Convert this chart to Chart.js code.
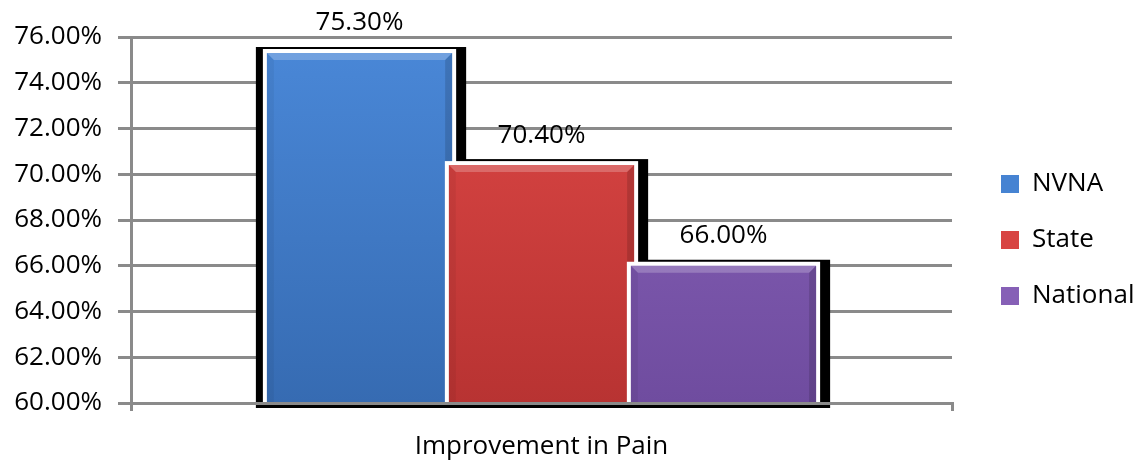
<!DOCTYPE html>
<html>
<head>
<meta charset="utf-8">
<script src="https://cdn.jsdelivr.net/npm/chart.js@4"></script>
<style>
  html, body { margin: 0; padding: 0; background: #ffffff; }
  #wrap { width: 1140px; height: 461px; }
</style>
</head>
<body>
<div id="wrap"><canvas id="c" width="1140" height="461"></canvas></div>
<script>
// ---- data ----
const categories = ['Improvement in Pain'];
const seriesNames = ['NVNA', 'State', 'National'];
const nvnaValues = [75.3];
const stateValues = [70.4];
const nationalValues = [66.0];
const yTicks = [60, 62, 64, 66, 68, 70, 72, 74, 76];

// ---- styles ----
const FONT = "'Open Sans', 'Noto Sans', sans-serif";
const solidColors = ['#4683d2', '#d84543', '#8660b6'];
const gradTops = ['#4a88d8', '#de4846', '#8a64bb'];
const gradBottoms = ['#366bb2', '#b83332', '#6f4c9f'];
const GRID = '#8a8a8a';

function gradFor(i) {
  return function (ctx) {
    const ca = ctx.chart.chartArea;
    if (!ca) return solidColors[i];
    const g = ctx.chart.ctx.createLinearGradient(0, ca.top, 0, ca.bottom);
    g.addColorStop(0, gradTops[i]);
    g.addColorStop(1, gradBottoms[i]);
    return g;
  };
}

const barPlugin = {
  id: 'bevelBars',
  afterInit(chart) {
    const lg = chart.legend;
    if (lg) {
      const f = lg.fit;
      lg.fit = function () { f.call(this); this.width = 188; };
    }
  },
  afterLayout(chart) {
    const lg = chart.legend;
    if (lg) {
      lg.left = 971;
      lg.right = 1140;
      lg.top = 141;
      lg.bottom = 461;
    }
  },
  beforeDatasetsDraw(chart) {
    const ctx = chart.ctx;
    const ca = chart.chartArea;
    const metas = chart.data.datasets.map((d, i) => chart.getDatasetMeta(i));
    const boxes = metas.map(m => m.data.map(el => {
      const p = el.getProps(['x', 'y', 'width', 'base'], true);
      const base = Math.min(p.base, ca.bottom);
      return { el, l: p.x - p.width / 2, r: p.x + p.width / 2, x: p.x, y: p.y, base };
    }));
    ctx.save();
    // black shadow boxes behind all bars
    ctx.fillStyle = '#000000';
    boxes.forEach(list => list.forEach(b => {
      ctx.fillRect(b.l - 11, b.y - 6, (b.r + 14) - (b.l - 11), (b.base + 5) - (b.y - 6));
    }));
    // white frame + bar, drawn in series order (later series on top)
    boxes.forEach(list => list.forEach(b => {
      ctx.fillStyle = '#ffffff';
      ctx.fillRect(b.l - 4, b.y - 4, (b.r - b.l) + 8, b.base - b.y + 4);
      ctx.save();
      ctx.beginPath();
      ctx.rect(ca.left, ca.top - 20, ca.right - ca.left, ca.bottom - ca.top + 20);
      ctx.clip();
      b.el.draw(ctx, ca);
      ctx.restore();
      const bw = 7;
      // top highlight bevel
      ctx.fillStyle = 'rgba(255,255,255,0.22)';
      ctx.beginPath();
      ctx.moveTo(b.l, b.y); ctx.lineTo(b.r, b.y);
      ctx.lineTo(b.r - bw, b.y + bw); ctx.lineTo(b.l + bw, b.y + bw);
      ctx.closePath(); ctx.fill();
      // left bevel
      ctx.fillStyle = 'rgba(0,0,0,0.05)';
      ctx.beginPath();
      ctx.moveTo(b.l, b.y); ctx.lineTo(b.l + bw, b.y + bw);
      ctx.lineTo(b.l + bw, b.base); ctx.lineTo(b.l, b.base);
      ctx.closePath(); ctx.fill();
      // right bevel
      ctx.fillStyle = 'rgba(0,0,0,0.14)';
      ctx.beginPath();
      ctx.moveTo(b.r, b.y); ctx.lineTo(b.r - bw, b.y + bw);
      ctx.lineTo(b.r - bw, b.base); ctx.lineTo(b.r, b.base);
      ctx.closePath(); ctx.fill();
    }));
    // value labels
    ctx.fillStyle = '#000000';
    ctx.font = '26px ' + FONT;
    ctx.textAlign = 'center';
    ctx.textBaseline = 'middle';
    boxes.forEach((list, i) => list.forEach((b, j) => {
      const v = chart.data.datasets[i].data[j];
      ctx.fillText(v.toFixed(2) + '%', b.x, b.y - 30);
    }));
    ctx.restore();
    return false;
  }
};

const datasetValues = [nvnaValues, stateValues, nationalValues];

new Chart(document.getElementById('c'), {
  type: 'bar',
  data: {
    labels: categories,
    datasets: seriesNames.map((name, i) => ({
      label: name,
      data: datasetValues[i],
      backgroundColor: gradFor(i),
      borderWidth: 0,
      categoryPercentage: 0.665,
      barPercentage: 1.018
    }))
  },
  options: {
    responsive: false,
    animation: false,
    devicePixelRatio: 1,
    layout: { padding: { top: 37, left: 0, right: 0, bottom: 0 } },
    plugins: {
      tooltip: { enabled: false },
      legend: {
        position: 'right',
        align: 'start',
        labels: {
          font: { family: FONT, size: 26 },
          color: '#000000',
          boxWidth: 18,
          boxHeight: 18,
          padding: 30,
          generateLabels(chart) {
            return chart.data.datasets.map((d, i) => ({
              text: d.label,
              fillStyle: solidColors[i],
              strokeStyle: solidColors[i],
              lineWidth: 0,
              hidden: false,
              datasetIndex: i
            }));
          }
        }
      }
    },
    scales: {
      x: {
        afterFit(scale) { scale.height = 58; },
        grid: {
          display: true,
          drawOnChartArea: false,
          drawTicks: true,
          tickLength: 8,
          color: GRID,
          lineWidth: 3
        },
        border: { display: true, color: GRID, width: 3, z: 1 },
        ticks: {
          color: '#000000',
          font: { family: FONT, size: 26 },
          padding: 20
        }
      },
      y: {
        min: 60,
        max: 76,
        afterFit(scale) { scale.width = 131; },
        afterBuildTicks(scale) { scale.ticks = yTicks.map(v => ({ value: v })); },
        grid: {
          color: GRID,
          lineWidth: 3,
          tickLength: 13
        },
        border: { display: true, color: GRID, width: 3 },
        ticks: {
          color: '#000000',
          font: { family: FONT, size: 26 },
          padding: 16,
          callback: v => Number(v).toFixed(2) + '%'
        }
      }
    }
  },
  plugins: [barPlugin]
});
</script>
</body>
</html>
